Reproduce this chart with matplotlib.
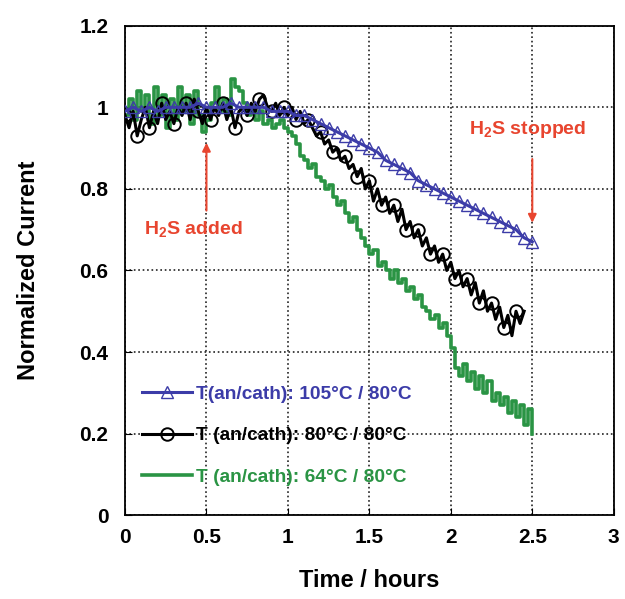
"""
Normalized current vs time, H2S exposure at three anode temperatures
"""
import numpy as np
import matplotlib.pyplot as plt

plt.rcParams['font.family'] = ['Liberation Sans', 'DejaVu Sans']
plt.rcParams['mathtext.fontset'] = 'custom'
plt.rcParams['mathtext.rm'] = 'Liberation Sans:bold'
plt.rcParams['mathtext.bf'] = 'Liberation Sans:bold'

# 105/80 C, sampled every 0.05 h
t_blue = np.linspace(0, 2.5, 51)
i_blue = [0.99, 1.00, 0.99, 1.00, 0.99, 1.00, 1.00, 1.00, 1.00, 1.01,
          1.00, 1.00, 1.00, 1.01, 1.00, 1.00, 1.00, 1.00, 0.99, 0.99,
          0.99, 0.98, 0.98, 0.97, 0.96, 0.95, 0.94, 0.93, 0.92, 0.91,
          0.90, 0.89, 0.87, 0.86, 0.85, 0.84, 0.82, 0.81, 0.80, 0.79,
          0.78, 0.77, 0.76, 0.75, 0.74, 0.73, 0.72, 0.71, 0.70, 0.68,
          0.67]

# 80/80 C, sampled every 0.025 h
t_black = np.linspace(0, 2.45, 99)
i_black = [0.98, 0.95, 0.99, 0.93, 0.97, 1.00, 0.95, 0.99, 0.96, 1.01,
           0.97, 0.99, 0.96, 1.00, 0.98, 1.01, 0.97, 1.02, 0.99, 0.96,
           1.00, 0.97, 1.00, 0.98, 1.01, 0.97, 1.00, 0.95, 0.99, 1.00,
           0.98, 1.01, 0.99, 1.02, 1.03, 1.00, 0.99, 1.01, 0.98, 1.00,
           0.98, 1.00, 0.97, 0.99, 0.96, 0.97, 0.95, 0.93, 0.94, 0.91,
           0.92, 0.89, 0.90, 0.87, 0.88, 0.85, 0.86, 0.83, 0.85, 0.80,
           0.82, 0.77, 0.80, 0.76, 0.78, 0.74, 0.76, 0.72, 0.75, 0.70,
           0.72, 0.68, 0.70, 0.66, 0.68, 0.64, 0.66, 0.62, 0.64, 0.60,
           0.62, 0.58, 0.60, 0.56, 0.58, 0.54, 0.57, 0.52, 0.55, 0.50,
           0.52, 0.48, 0.51, 0.46, 0.49, 0.44, 0.50, 0.47, 0.50]

# 64/80 C, sampled every 0.025 h
t_green = np.linspace(0, 2.5, 101)
i_green = [0.98, 1.02, 0.97, 1.04, 0.99, 1.03, 0.96, 1.05, 0.98, 1.03,
           0.95, 1.02, 0.97, 1.05, 0.99, 1.03, 0.96, 1.04, 0.98, 0.94,
           0.97, 1.01, 1.05, 0.99, 1.02, 0.98, 1.07, 1.05, 1.04, 1.01,
           0.98, 1.00, 0.97, 0.99, 0.96, 0.97, 0.95, 0.96, 0.97, 0.95,
           0.94, 0.93, 0.91, 0.88, 0.87, 0.85, 0.86, 0.83, 0.82, 0.80,
           0.81, 0.78, 0.76, 0.77, 0.74, 0.72, 0.73, 0.70, 0.68, 0.66,
           0.64, 0.65, 0.61, 0.62, 0.60, 0.58, 0.60, 0.57, 0.58, 0.55,
           0.56, 0.53, 0.54, 0.51, 0.50, 0.48, 0.49, 0.46, 0.47, 0.44,
           0.41, 0.36, 0.34, 0.37, 0.33, 0.35, 0.31, 0.34, 0.30, 0.33,
           0.28, 0.30, 0.27, 0.29, 0.25, 0.28, 0.24, 0.27, 0.22, 0.26,
           0.20]

labels = ['T(an/cath): 105°C / 80°C',
          'T (an/cath): 80°C / 80°C',
          'T (an/cath): 64°C / 80°C']
colors = ['#3c3ca8', 'black', '#2a9444']
red = '#e8452f'

fig = plt.figure(figsize=(6.25, 5.99), dpi=100)
ax = fig.add_axes([0.2, 0.14, 0.782, 0.817])
ax.set_axisbelow(True)

ax.plot(t_green, i_green, color=colors[2], lw=2.6, drawstyle='steps-post',
        label=labels[2], zorder=2)
ax.plot(t_black, i_black, color=colors[1], lw=2.2, marker='o', markevery=3,
        ms=9, mfc='none', mew=1.4, label=labels[1], zorder=3)
ax.plot(t_blue, i_blue, color=colors[0], lw=2.2, marker='^', ms=9,
        mfc='none', mew=1.0, label=labels[0], zorder=4)

ax.set_xlim(0, 3)
ax.set_ylim(0, 1.2)
ax.set_xticks([0, 0.5, 1, 1.5, 2, 2.5, 3])
ax.set_xticklabels(['0', '0.5', '1', '1.5', '2', '2.5', '3'])
ax.set_yticks([0, 0.2, 0.4, 0.6, 0.8, 1, 1.2])
ax.set_yticklabels(['0', '0.2', '0.4', '0.6', '0.8', '1', '1.2'])
ax.grid(True, color='#222222', ls=':', lw=1.2)
ax.tick_params(labelsize=15, direction='in', length=5)
ax.tick_params(axis='y', pad=12)
ax.tick_params(axis='x', pad=9)
for lab in ax.get_xticklabels() + ax.get_yticklabels():
    lab.set_fontweight('bold')
for s in ax.spines.values():
    s.set_linewidth(1.3)

ax.set_xlabel('Time / hours', fontsize=17, fontweight='bold', labelpad=16)
ax.set_ylabel('Normalized Current', fontsize=17, fontweight='bold', labelpad=28)

# annotations
ax.annotate('', xy=(0.5, 0.92), xytext=(0.5, 0.74),
            arrowprops=dict(arrowstyle='-|>', color=red, lw=1.5, mutation_scale=12))
ax.text(0.42, 0.70, r'H$_2$S added', color=red, fontsize=14,
        fontweight='bold', ha='center', va='center')
ax.annotate('', xy=(2.5, 0.71), xytext=(2.5, 0.88),
            arrowprops=dict(arrowstyle='-|>', color=red, lw=1.5, mutation_scale=12))
ax.text(2.47, 0.945, r'H$_2$S stopped', color=red, fontsize=14,
        fontweight='bold', ha='center', va='center')

h, l = ax.get_legend_handles_labels()
leg = ax.legend(h[::-1], l[::-1], loc='lower left', bbox_to_anchor=(0.0, 0.025),
                frameon=False, handlelength=2.6, handletextpad=0.2,
                labelspacing=1.25, prop=dict(size=13.8, weight='bold'))
for txt, c in zip(leg.get_texts(), colors):
    txt.set_color(c)

fig.savefig('out.png', dpi=100)
